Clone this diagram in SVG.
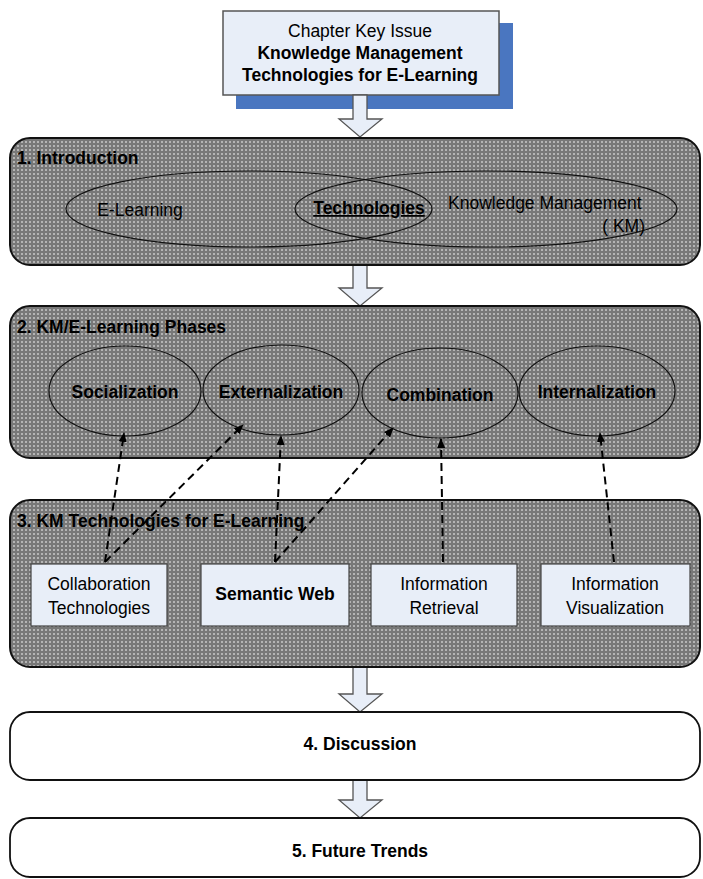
<svg xmlns="http://www.w3.org/2000/svg" width="703" height="879" viewBox="0 0 703 879">
  <defs>
    <pattern id="dots" width="4" height="4" patternUnits="userSpaceOnUse">
      <rect width="4" height="4" fill="#787878"/>
      <rect x="1" y="1" width="2" height="2" fill="#b4b4b4"/>
    </pattern>
    <marker id="head" markerWidth="10" markerHeight="10" viewBox="0 0 10 10" refX="9" refY="5" orient="auto" markerUnits="userSpaceOnUse">
      <path d="M0,1 L10,5 L0,9 Z" fill="#000"/>
    </marker>
  </defs>
  <style>
    text { font-family: "Liberation Sans", Arial, sans-serif; font-size: 17.5px; fill: #000; }
    .b { font-weight: bold; }
    .mid { text-anchor: middle; }
    .panel { fill: url(#dots); stroke: #111; stroke-width: 2; }
    .plain { fill: #fff; stroke: #111; stroke-width: 1.8; }
    .oval { fill: none; stroke: #111; stroke-width: 1.2; }
    .tech { fill: #e8eef8; stroke: #444; stroke-width: 1.2; }
    .block { fill: #e8eef8; stroke: #555; stroke-width: 1.3; }
    .dash { fill: none; stroke: #000; stroke-width: 2; stroke-dasharray: 8 5; marker-end: url(#head); }
  </style>

  <!-- chapter key issue -->
  <g id="key-issue">
    <rect x="236" y="23" width="277" height="86" fill="#4a76c0"/>
    <rect x="223" y="11" width="276" height="84" fill="#e8eef8" stroke="#555" stroke-width="1.5"/>
    <text x="360" y="37" class="mid">Chapter Key Issue</text>
    <text x="360" y="59" class="mid b">Knowledge Management</text>
    <text x="360" y="81" class="mid b">Technologies for E-Learning</text>
  </g>

  <!-- flow arrows between sections -->
  <g id="flow-arrows">
    <path class="block" d="M353,95 L367,95 L367,119 L382,119 L360,137 L339,119 L353,119 Z"/>
    <path class="block" d="M353,265 L367,265 L367,288 L382,288 L360,306 L339,288 L353,288 Z"/>
    <path class="block" d="M353,667 L367,667 L367,694 L382,694 L360,712 L339,694 L353,694 Z"/>
    <path class="block" d="M353,780 L367,780 L367,800 L382,800 L360,818 L339,800 L353,800 Z"/>
  </g>

  <!-- 1. Introduction -->
  <g id="introduction">
    <rect class="panel" x="10" y="138" width="690" height="127" rx="20"/>
    <text x="17" y="164" class="b">1. Introduction</text>
    <ellipse class="oval" cx="249" cy="209" rx="183" ry="38"/>
    <ellipse class="oval" cx="486" cy="209" rx="191" ry="38"/>
    <text x="140" y="216" class="mid">E-Learning</text>
    <text x="369" y="214" class="mid b" text-decoration="underline">Technologies</text>
    <text x="448" y="209">Knowledge Management</text>
    <text x="645" y="232" text-anchor="end">( KM)</text>
  </g>

  <!-- 2. KM/E-Learning Phases -->
  <g id="phases">
    <rect class="panel" x="10" y="306" width="690" height="152" rx="20"/>
    <text x="17" y="333" class="b">2. KM/E-Learning Phases</text>
  </g>
  <g id="socialization">
    <ellipse class="oval" cx="125" cy="391" rx="76" ry="45"/>
    <text x="125" y="398" class="mid b">Socialization</text>
  </g>
  <g id="externalization">
    <ellipse class="oval" cx="281" cy="390" rx="78" ry="45"/>
    <text x="281" y="398" class="mid b">Externalization</text>
  </g>
  <g id="combination">
    <ellipse class="oval" cx="440" cy="393" rx="78" ry="45"/>
    <text x="440" y="401" class="mid b">Combination</text>
  </g>
  <g id="internalization">
    <ellipse class="oval" cx="597" cy="391" rx="78" ry="45"/>
    <text x="597" y="398" class="mid b">Internalization</text>
  </g>

  <!-- 3. KM Technologies for E-Learning -->
  <g id="technologies">
    <rect class="panel" x="10" y="500" width="690" height="167" rx="20"/>
    <text x="17" y="527" class="b">3. KM Technologies for E-Learning</text>
  </g>
  <g id="collaboration">
    <rect class="tech" x="31" y="564" width="136" height="62"/>
    <text x="99" y="590" class="mid">Collaboration</text>
    <text x="99" y="614" class="mid">Technologies</text>
  </g>
  <g id="semantic-web">
    <rect class="tech" x="201" y="564" width="148" height="62" stroke="#111" stroke-width="2"/>
    <text x="275" y="600" class="mid b">Semantic Web</text>
  </g>
  <g id="retrieval">
    <rect class="tech" x="371" y="564" width="146" height="62"/>
    <text x="444" y="590" class="mid">Information</text>
    <text x="444" y="614" class="mid">Retrieval</text>
  </g>
  <g id="visualization">
    <rect class="tech" x="541" y="564" width="149" height="62"/>
    <text x="615" y="590" class="mid">Information</text>
    <text x="615" y="614" class="mid">Visualization</text>
  </g>

  <!-- technology-to-phase links -->
  <g id="connectors">
    <line class="dash" x1="105" y1="562" x2="124" y2="433"/>
    <line class="dash" x1="105" y1="562" x2="243" y2="425"/>
    <line class="dash" x1="275" y1="562" x2="281" y2="436"/>
    <line class="dash" x1="275" y1="562" x2="393" y2="428"/>
    <line class="dash" x1="443" y1="562" x2="441" y2="439"/>
    <line class="dash" x1="614" y1="562" x2="600" y2="433"/>
  </g>

  <!-- 4. Discussion -->
  <g id="discussion">
    <rect class="plain" x="10" y="712" width="690" height="68" rx="20"/>
    <text x="360" y="750" class="mid b">4. Discussion</text>
  </g>

  <!-- 5. Future Trends -->
  <g id="future-trends">
    <rect class="plain" x="10" y="818" width="690" height="59" rx="20"/>
    <text x="360" y="857" class="mid b">5. Future Trends</text>
  </g>
</svg>
